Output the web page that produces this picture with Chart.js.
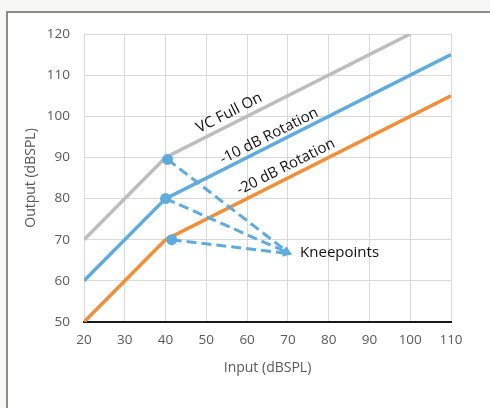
<!DOCTYPE html>
<html>
<head>
<meta charset="utf-8">
<script src="https://cdn.jsdelivr.net/npm/chart.js@4"></script>
<style>
  html, body { margin: 0; padding: 0; background: #f7f7f5; }
  #wrap { position: relative; width: 490px; height: 408px; overflow: hidden; }
  #frame { position: absolute; left: 6px; top: 11px; width: 500px; height: 420px;
           background: #fff; border-left: 2px solid #8c8c8c; border-top: 2px solid #8c8c8c; }
  #chart { position: absolute; left: 0; top: 0; }
</style>
</head>
<body>
<div id="wrap">
  <div id="frame"></div>
  <canvas id="chart" width="490" height="408"></canvas>
</div>
<script>
// Input/output curves
const fullOnX = [20, 40, 100];
const fullOnY = [70, 90, 120];
const minus10X = [20, 40, 110];
const minus10Y = [60, 80, 115];
const minus20X = [20, 40, 110];
const minus20Y = [50, 70, 105];

// kneepoint markers and where the dashed arrows point
const kneeX = [40.5, 40, 41.5];
const kneeY = [89.5, 80, 70];
const arrowTo = [70.5, 66.6];

// text along the curves
const curveLabels = ['VC Full On', '-10 dB Rotation', '-20 dB Rotation'];
const curveLabelX = [55.6, 65.4, 69.5];
const curveLabelY = [100.8, 95.2, 87.7];
const noteText = 'Kneepoints';
const noteX = 73;
const noteY = 66.8;

const xTicks = [20, 30, 40, 50, 60, 70, 80, 90, 100, 110];
const yTicks = [50, 60, 70, 80, 90, 100, 110, 120];

const GRAY = '#bdbdbd', BLUE = '#5eabe0', ORANGE = '#f28e36';
const FONT = '"Open Sans", "Liberation Sans", sans-serif';

function toPoints(xs, ys) {
    return xs.map((x, i) => ({ x: x, y: ys[i] }));
}

function lineSet(label, xs, ys, color) {
    return {
        label: label,
        data: toPoints(xs, ys),
        borderColor: color,
        borderWidth: 3.5,
        pointRadius: 0,
        tension: 0,
        order: 2
    };
}

function arrowSet(i) {
    return {
        label: 'arrow' + i,
        data: [{ x: kneeX[i], y: kneeY[i] }, { x: arrowTo[0], y: arrowTo[1] }],
        borderColor: BLUE,
        backgroundColor: BLUE,
        borderWidth: 3,
        borderDash: [10, 5],
        pointRadius: [5.5, 0],
        pointBorderWidth: 0,
        order: 1
    };
}

// rotated labels, kneepoint note and arrow heads
const annotations = {
    id: 'annotations',
    afterDatasetsDraw(chart) {
        const ctx = chart.ctx;
        const xs = chart.scales.x, ys = chart.scales.y;
        // slope of the upper part of the curves, in pixels
        const dx = xs.getPixelForValue(50) - xs.getPixelForValue(40);
        const dy = ys.getPixelForValue(85) - ys.getPixelForValue(80);
        const angle = Math.atan2(dy, dx);

        ctx.save();
        ctx.fillStyle = '#111';
        ctx.font = '15px ' + FONT;
        ctx.textAlign = 'center';
        ctx.textBaseline = 'middle';
        curveLabels.forEach((t, i) => {
            ctx.save();
            ctx.translate(xs.getPixelForValue(curveLabelX[i]), ys.getPixelForValue(curveLabelY[i]));
            ctx.rotate(angle);
            ctx.fillText(t, 0, 0);
            ctx.restore();
        });

        ctx.textAlign = 'left';
        ctx.fillText(noteText, xs.getPixelForValue(noteX), ys.getPixelForValue(noteY));

        // arrow heads
        const tx = xs.getPixelForValue(arrowTo[0]), ty = ys.getPixelForValue(arrowTo[1]);
        ctx.fillStyle = BLUE;
        kneeX.forEach((kx, i) => {
            const sx = xs.getPixelForValue(kx), sy = ys.getPixelForValue(kneeY[i]);
            const a = Math.atan2(ty - sy, tx - sx);
            ctx.save();
            ctx.translate(tx, ty);
            ctx.rotate(a);
            ctx.beginPath();
            ctx.moveTo(2, 0);
            ctx.lineTo(-7, -4);
            ctx.lineTo(-7, 4);
            ctx.closePath();
            ctx.fill();
            ctx.restore();
        });
        ctx.restore();
    }
};

new Chart(document.getElementById('chart').getContext('2d'), {
    type: 'line',
    data: {
        datasets: [
            lineSet('VC Full On', fullOnX, fullOnY, GRAY),
            lineSet('-10 dB Rotation', minus10X, minus10Y, BLUE),
            lineSet('-20 dB Rotation', minus20X, minus20Y, ORANGE),
            arrowSet(0), arrowSet(1), arrowSet(2)
        ]
    },
    options: {
        responsive: false,
        animation: false,
        layout: { padding: { left: 0, right: 39, top: 34, bottom: 0 } },
        plugins: { legend: { display: false }, tooltip: { enabled: false } },
        scales: {
            x: {
                type: 'linear',
                min: 20, max: 110,
                afterBuildTicks: s => { s.ticks = xTicks.map(v => ({ value: v })); },
                afterFit: s => { s.height = 86; },
                grid: { color: '#d9d9d9', lineWidth: 1, drawTicks: false },
                border: { display: true, color: '#1a1a1a', width: 2 },
                ticks: { color: '#595959', font: { family: FONT, size: 13.5 }, padding: 10, maxRotation: 0 },
                title: { display: true, text: 'Input (dBSPL)', color: '#595959',
                         font: { family: FONT, size: 14 }, padding: { top: 0, bottom: 32 } }
            },
            y: {
                type: 'linear',
                min: 50, max: 120,
                afterBuildTicks: s => { s.ticks = yTicks.map(v => ({ value: v })); },
                afterFit: s => { s.width = 84; },
                grid: { color: '#d9d9d9', lineWidth: 1, drawTicks: false },
                border: { display: false },
                ticks: { color: '#595959', font: { family: FONT, size: 13.5 }, padding: 14 },
                title: { display: true, text: 'Output (dBSPL)', color: '#595959',
                         font: { family: FONT, size: 14 }, padding: { top: 23, bottom: 0 } }
            }
        }
    },
    plugins: [annotations]
});
</script>
</body>
</html>
